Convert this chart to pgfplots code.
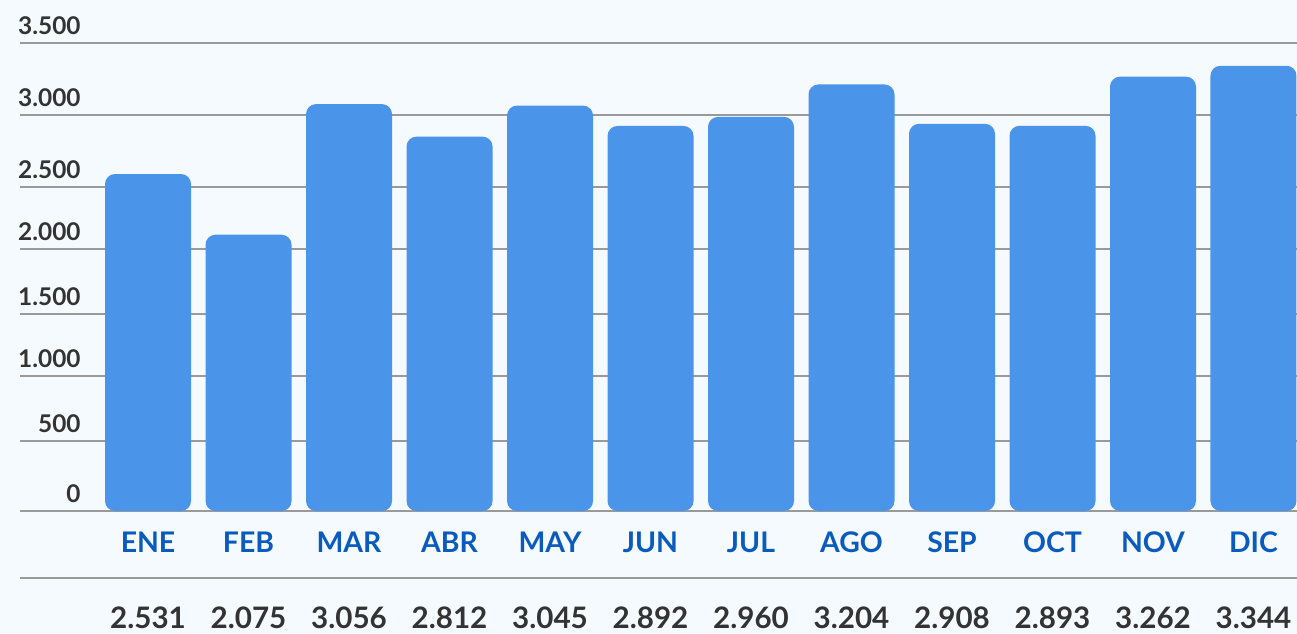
\documentclass[border=0pt]{standalone}
\usepackage{pgfplots}
\pgfplotsset{compat=1.18}
\usepackage{pgfplotstable}
\usepackage{fontspec}
\setmainfont{Lato}
\definecolor{bg}{HTML}{F5FAFE}
\definecolor{barblue}{HTML}{4A94EA}
\definecolor{monthblue}{HTML}{0B5BBE}
\definecolor{txt}{HTML}{333333}
\definecolor{gridc}{HTML}{9A9A9A}
\pgfplotstableread{
x v
0 2531
1 2075
2 3056
3 2812
4 3045
5 2892
6 2960
7 3204
8 2908
9 2893
10 3262
11 3344
}\datatable
\begin{document}
\begin{tikzpicture}
\fill[bg] (0,0) rectangle (648.5pt,316.5pt);
\useasboundingbox (0,0) rectangle (648.5pt,316.5pt);
\begin{axis}[
  at={(10pt,61pt)}, anchor=south west,
  scale only axis,
  width=638.5pt, height=239.66pt,
  xmin=-1.274, xmax=11.433,
  ymin=0, ymax=3600,
  clip=false,
  axis line style={draw=none},
  major tick length=0pt,
  ymajorgrids,
  grid style={gridc, line width=0.8pt},
  ytick={0,526,1014,1480,1968,2433,2974,3515},
  yticklabels={0,500,1.000,1.500,2.000,2.500,3.000,3.500},
  yticklabel style={anchor=south east, inner sep=0pt, xshift=30.5pt, yshift=4pt,
    font=\fontsize{12.2}{13}\selectfont\bfseries, text=txt},
  xtick={0,...,11},
  xticklabels={ENE,FEB,MAR,ABR,MAY,JUN,JUL,AGO,SEP,OCT,NOV,DIC},
  xticklabel style={anchor=base, inner sep=0pt, yshift=-20.5pt,
    font=\fontsize{14.2}{15}\selectfont\bfseries, text=monthblue},
]
\addplot[ybar, bar width=43pt, fill=barblue, draw=none, rounded corners=5pt]
  table[x=x, y=v] {\datatable};
\addplot[only marks, mark=none, nodes near coords={\pgfmathprintnumber[fixed, precision=0, 1000 sep={.}, assume math mode=true]{\pgfplotspointmeta}},
  point meta=explicit,
  nodes near coords style={anchor=base, inner sep=0pt, yshift=-58.5pt,
    font=\fontsize{14.8}{15}\selectfont\bfseries, text=txt}]
  table[x=x, y expr=0, meta=v] {\datatable};
\draw[gridc, line width=0.8pt] ([yshift=-33.5pt]rel axis cs:0,0) -- ([yshift=-33.5pt]rel axis cs:1,0);
\end{axis}
\end{tikzpicture}
\end{document}
